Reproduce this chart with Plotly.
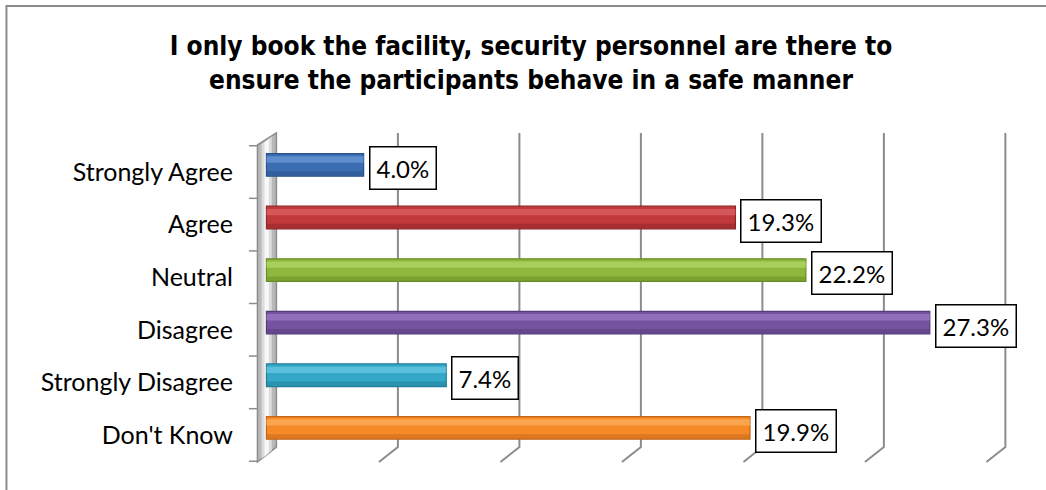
import plotly.graph_objects as go

# Survey responses
categories = ["Strongly Agree", "Agree", "Neutral", "Disagree", "Strongly Disagree", "Don't Know"]
percentages = [4.0, 19.3, 22.2, 27.3, 7.4, 19.9]
value_labels = ["4.0%", "19.3%", "22.2%", "27.3%", "7.4%", "19.9%"]
grid_values = [5, 10, 15, 20, 25, 30]

title_lines = [
    "I only book the facility, security personnel are there to",
    "ensure the participants behave in a safe manner",
]

base_colors = ["#3B6DB3", "#C0393B", "#8DB83D", "#7553A0", "#35A7C7", "#F58A26"]
dark_colors = ["#2A528A", "#8E2426", "#678C27", "#553B7A", "#227E98", "#C2661A"]
light_colors = ["#6E9BD8", "#E06466", "#B3D96A", "#9C7CC4", "#6CCBE4", "#FDB061"]

W, H = 1046, 490
X_MIN, X_MAX = -0.8, 30.6
PX_PER_UNIT = 24.3
ML = 266 + X_MIN * PX_PER_UNIT
MR = W - ML - (X_MAX - X_MIN) * PX_PER_UNIT
MT, MB = 145, 28
PLOT_W, PLOT_H = W - ML - MR, H - MT - MB

BAR_W = 0.43
BAR_OFF = -0.35          # bars sit slightly behind the front edge
DEPTH_BACK = 0.41        # back-wall shift in x units
DEPTH_FRONT = -0.37      # front-edge shift in x units
Y_BACK_BOTTOM = 0.047    # back-wall floor (paper units)
Y_TOP_BACK = 1.038
LEFT_FONT = "Lato, Carlito, Calibri, sans-serif"

fig = go.Figure()

# main cylinder body
fig.add_trace(go.Bar(
    y=categories, x=percentages, orientation="h",
    width=BAR_W, offset=BAR_OFF,
    marker=dict(color=base_colors, line=dict(color=dark_colors, width=1.2)),
    hoverinfo="skip", showlegend=False,
))
# lighter upper highlight band
fig.add_trace(go.Bar(
    y=categories, x=percentages, orientation="h",
    width=BAR_W * 0.28, offset=BAR_OFF + BAR_W * 0.12,
    marker=dict(color=light_colors, line=dict(width=0), opacity=0.7),
    hoverinfo="skip", showlegend=False,
))
# darker lower shade band
fig.add_trace(go.Bar(
    y=categories, x=percentages, orientation="h",
    width=BAR_W * 0.2, offset=BAR_OFF + BAR_W * 0.78,
    marker=dict(color=dark_colors, line=dict(width=0), opacity=0.5),
    hoverinfo="skip", showlegend=False,
))

shapes = []
# left side wall
shapes.append(dict(
    type="path", xref="x", yref="paper", layer="below",
    path=f"M {DEPTH_FRONT},0 L {DEPTH_BACK},{Y_BACK_BOTTOM} L {DEPTH_BACK},{Y_TOP_BACK} L {DEPTH_FRONT},1 Z",
    fillcolor="#B8B8B8", line=dict(color="#8C8C8C", width=1.5),
))
shapes.append(dict(
    type="path", xref="x", yref="paper", layer="below",
    path="M -0.2,0.01 L 0.22,0.036 L 0.22,1.027 L -0.2,1.003 Z",
    fillcolor="#DCDCDC", line=dict(width=0),
))
shapes.append(dict(
    type="path", xref="x", yref="paper", layer="below",
    path="M -0.08,0.017 L 0.1,0.029 L 0.1,1.02 L -0.08,1.008 Z",
    fillcolor="#F8F8F8", line=dict(width=0),
))
# gridlines on the back wall with their floor segment
for v in grid_values:
    shapes.append(dict(
        type="path", xref="x", yref="paper", layer="below",
        path=f"M {v + DEPTH_BACK},{Y_TOP_BACK} L {v + DEPTH_BACK},{Y_BACK_BOTTOM} L {v + DEPTH_FRONT},0",
        line=dict(color="#8C8C8C", width=2),
    ))
# category boundary ticks on the front edge
for i in range(len(categories) + 1):
    shapes.append(dict(
        type="line", xref="x", yref="y", layer="below",
        x0=DEPTH_FRONT - 0.35, x1=DEPTH_FRONT, y0=i - 0.5, y1=i - 0.5,
        line=dict(color="#8C8C8C", width=1.5),
    ))
# chart frame (open at the right and bottom edges of the page)
shapes.append(dict(
    type="rect", xref="paper", yref="paper",
    x0=(6 - ML) / PLOT_W, x1=(W + 20 - ML) / PLOT_W,
    y0=-(MB + 20) / PLOT_H, y1=(H - MB - 6) / PLOT_H,
    line=dict(color="#8A8A8A", width=2), fillcolor="rgba(0,0,0,0)",
))

annotations = []
for cat, val, lab in zip(categories, percentages, value_labels):
    annotations.append(dict(
        x=val, y=cat, xref="x", yref="y", text=lab,
        xanchor="left", yanchor="middle", xshift=5, yshift=4,
        showarrow=False, bgcolor="white", bordercolor="black",
        borderwidth=1.5, borderpad=6,
        font=dict(family=LEFT_FONT, size=24, color="black"),
    ))

fig.update_layout(
    width=W, height=H,
    margin=dict(l=ML, r=MR, t=MT, b=MB),
    paper_bgcolor="white", plot_bgcolor="rgba(0,0,0,0)",
    barmode="overlay",
    title=dict(
        text="<br>".join(title_lines),
        x=531 / W, xanchor="center", xref="container",
        y=1 - 55 / H, yanchor="top", yref="container",
        font=dict(family="DejaVu Sans Condensed, DejaVu Sans, sans-serif", size=26, color="black", weight="bold"),
    ),
    xaxis=dict(range=[X_MIN, X_MAX], showgrid=False, zeroline=False, showticklabels=False,
               showline=False, ticks=""),
    yaxis=dict(categoryorder="array", categoryarray=categories, autorange="reversed",
               showgrid=False, zeroline=False, showline=False, ticks="",
               ticklabelstandoff=13,
               tickfont=dict(family=LEFT_FONT, size=25, color="black")),
    shapes=shapes, annotations=annotations,
)

fig.write_html("out.html")
